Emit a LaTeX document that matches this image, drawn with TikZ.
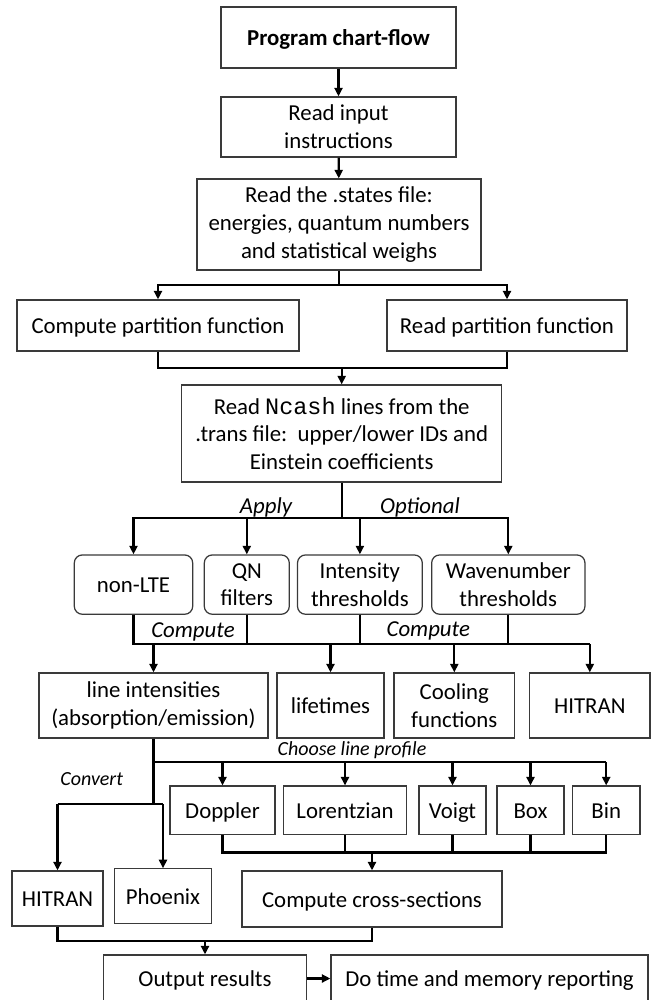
\documentclass[tikz,border=0pt]{standalone}
\usepackage{fontspec}
\setmainfont{Carlito}
\newfontfamily\cour{Liberation Mono}
\usetikzlibrary{arrows.meta}
\definecolor{boxgray}{HTML}{3A3A3A}
\begin{document}
\begin{tikzpicture}[x=1pt,y=-1pt,
  box/.style={draw=boxgray, line width=1.25pt, align=center, inner sep=0pt,
    font=\fontsize{22.8}{27.8}\selectfont, text=black},
  one/.style={text height=21pt, text depth=5pt},
  rbox/.style={box, rounded corners=8pt},
  conn/.style={line width=2.2pt, black},
  arr/.style={conn, -{Triangle[length=8.5pt,width=8pt]}},
  lab/.style={font=\fontsize{22.8}{27.8}\selectfont\itshape, inner sep=0pt, anchor=base},
  slab/.style={font=\fontsize{20}{24}\selectfont\itshape, inner sep=0pt, anchor=base}
]
\useasboundingbox (0,0) rectangle (659,1000);
\fill[white] (0,0) rectangle (659,1000);
\clip (0,0) rectangle (659,1000);

% bus coordinates
\coordinate (bus1) at (0,285);
\coordinate (bus2) at (0,368);
\coordinate (bus3) at (0,518.3);
\coordinate (bus4) at (0,644);
\coordinate (bus5) at (0,762);
\coordinate (bus6) at (0,804);
\coordinate (bus7) at (0,852.5);
\coordinate (bus8) at (0,941);

% boxes
\node[box, one, minimum width=235pt, minimum height=61pt] (prog) at (338.5,37.5) {\textbf{Program chart-flow}};
\node[box, minimum width=235pt, minimum height=60pt] (input) at (338.5,127) {Read input\\instructions};
\node[box, minimum width=284pt, minimum height=91pt] (states) at (339,224.5) {Read the .states file:\\energies, quantum numbers\\and statistical weighs};
\node[box, one, minimum width=282pt, minimum height=51pt] (cpf) at (158,325.5) {Compute partition function};
\node[box, one, minimum width=240pt, minimum height=51pt] (rpf) at (507,325.5) {Read partition function};
\node[box, minimum width=320pt, minimum height=97pt] (ncash) at (341.7,433.5) {Read {\cour\fontsize{23.5}{27.8}\selectfont Ncash} lines from the\\.trans file:\ \ upper/lower IDs and\\Einstein coefficients};

\node[rbox, one, minimum width=118.4pt, minimum height=59.3pt] (nonlte) at (133.5,584.6) {non-LTE};
\node[rbox, minimum width=85pt, minimum height=59.3pt] (qn) at (246.8,584.6) {QN\\filters};
\node[rbox, minimum width=124.8pt, minimum height=59.3pt] (intens) at (359.9,584.6) {Intensity\\thresholds};
\node[rbox, minimum width=153.3pt, minimum height=59.3pt] (wave) at (508.3,584.6) {Wavenumber\\thresholds};

\node[box, minimum width=229pt, minimum height=65pt] (li) at (153.5,705.5) {line intensities\\(absorption/emission)};
\node[box, one, minimum width=107pt, minimum height=65pt] (life) at (330.5,705.5) {lifetimes};
\node[box, minimum width=120.7pt, minimum height=65pt] (cool) at (454.3,705.5) {Cooling\\functions};
\node[box, one, minimum width=120.3pt, minimum height=65pt] (hitA) at (589.8,705.5) {HITRAN};

\node[box, one, minimum width=105pt, minimum height=48.5pt] (dop) at (222.5,810.3) {Doppler};
\node[box, one, minimum width=123pt, minimum height=48.5pt] (lor) at (345,810.3) {Lorentzian};
\node[box, one, minimum width=67pt, minimum height=48.5pt] (voigt) at (452.5,810.3) {Voigt};
\node[box, one, minimum width=67pt, minimum height=48.5pt] (boxp) at (530.5,810.3) {Box};
\node[box, one, minimum width=67.5pt, minimum height=48.5pt] (bin) at (606.2,810.3) {Bin};

\node[box, one, minimum width=91pt, minimum height=55pt] (hitB) at (57.5,898.5) {HITRAN};
\node[box, one, minimum width=96.3pt, minimum height=54.3pt] (phoe) at (163,896) {Phoenix};
\node[box, one, minimum width=260pt, minimum height=56pt] (cross) at (372,899) {Compute cross-sections};

\node[box, one, minimum width=202.7pt, minimum height=47pt] (out) at (205,978.5) {Output results};
\node[box, one, minimum width=317pt, minimum height=47pt] (dotime) at (489.5,978.5) {Do time and memory reporting};

% labels
\node[lab] (lapply) at (266,513.3) {Apply};
\node[lab] (lopt) at (420,513.3) {Optional};
\node[lab] (lcomp1) at (193,637.3) {Compute};
\node[lab] (lcomp2) at (428.3,636) {Compute};
\node[slab] (lchoose) at (352,755.5) {Choose line profile};
\node[slab] (lconv) at (91.7,785.3) {Convert};

% connectors
\draw[arr] (prog) -- (input);
\draw[arr] (input) -- (states);

\draw[conn] (states.south) -- (states.south|-bus1);
\draw[arr] (states.south|-bus1) -| (cpf.north);
\draw[arr] (states.south|-bus1) -| (rpf.north);

\draw[conn] (cpf.south) |- (rpf.south|-bus2) -- (rpf.south);
\draw[arr] (ncash.north|-bus2) -- (ncash.north);

\draw[conn] (ncash.south) -- (ncash.south|-bus3);
\draw[arr] (ncash.south|-bus3) -| (nonlte.north);
\draw[arr] (ncash.south|-bus3) -| (qn.north);
\draw[arr] (ncash.south|-bus3) -| (intens.north);
\draw[arr] (ncash.south|-bus3) -| (wave.north);

\draw[conn] (nonlte.south) |- (hitA.north|-bus4);
\draw[conn] (qn.south) -- (qn.south|-bus4);
\draw[conn] (intens.south) -- (intens.south|-bus4);
\draw[conn] (wave.south) -- (wave.south|-bus4);
\draw[arr] (li.north|-bus4) -- (li.north);
\draw[arr] (life.north|-bus4) -- (life.north);
\draw[arr] (cool.north|-bus4) -- (cool.north);
\draw[arr] (hitA.north|-bus4) -- (hitA.north);

\draw[conn] (li.south) -- (li.south|-bus6);
\draw[conn] (li.south|-bus5) -- (bin.north|-bus5);
\draw[arr] (dop.north|-bus5) -- (dop.north);
\draw[arr] (lor.north|-bus5) -- (lor.north);
\draw[arr] (voigt.north|-bus5) -- (voigt.north);
\draw[arr] (boxp.north|-bus5) -- (boxp.north);
\draw[arr] (bin.north|-bus5) -- (bin.north);

\draw[conn] (hitB.north|-bus6) -- (phoe.north|-bus6);
\draw[arr] (hitB.north|-bus6) -- (hitB.north);
\draw[arr] (phoe.north|-bus6) -- (phoe.north);

\draw[conn] (dop.south) |- (bin.south|-bus7) -- (bin.south);
\draw[conn] (lor.south) -- (lor.south|-bus7);
\draw[conn] (voigt.south) -- (voigt.south|-bus7);
\draw[conn] (boxp.south) -- (boxp.south|-bus7);
\draw[arr] (cross.north|-bus7) -- (cross.north);

\draw[conn] (hitB.south) |- (cross.south|-bus8) -- (cross.south);
\draw[arr] (out.north|-bus8) -- (out.north);

\draw[arr] (out.east) -- (dotime.west);
\end{tikzpicture}
\end{document}
